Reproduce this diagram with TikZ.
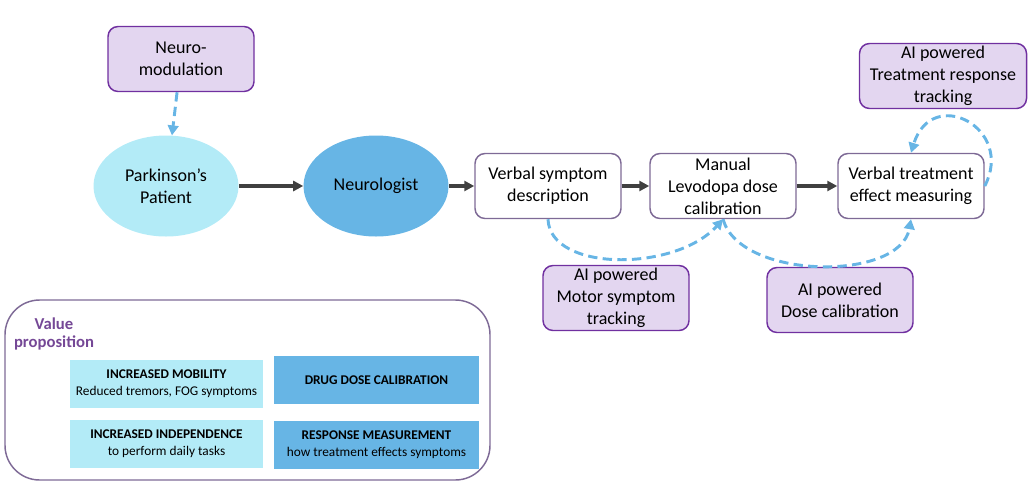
\documentclass[tikz,border=0pt]{standalone}
\usepackage{fontspec}
\setmainfont{Carlito}
\usetikzlibrary{arrows.meta}
\usetikzlibrary{shapes.geometric}
\definecolor{lightcyan}{HTML}{B3EBF7}
\definecolor{midblue}{HTML}{67B5E5}
\definecolor{lilac}{HTML}{E3D6F0}
\definecolor{mypurple}{HTML}{7030A0}
\definecolor{boxframe}{HTML}{7E6A96}
\definecolor{arrowgray}{HTML}{404040}
\colorlet{vptext}{mypurple!70!gray}

\begin{document}
\begin{tikzpicture}[
		x=0.75pt,y=-0.75pt,
		every node/.style={
			font=\fontsize{13.5}{16.5}\selectfont,
			align=center, inner sep=1pt
		},
		stepbox/.style={draw=boxframe, fill=white, line width=1.1pt, rounded corners=7.5pt,
			minimum width=146*0.75pt, minimum height=65*0.75pt},
		aibox/.style={stepbox, draw=mypurple, fill=lilac},
		person/.style={ellipse, minimum width=145*0.75pt, minimum height=101*0.75pt},
		valbox/.style={minimum height=48*0.75pt, font=\fontsize{10}{12.5}\selectfont},
		flow/.style={-{Triangle[length=7.5pt,width=7.5pt]}, line width=2.5pt, arrowgray},
		aiflow/.style={-{Triangle[length=7.5pt,width=8pt]}, line width=2.2pt, midblue,
			dash pattern=on 7pt off 4pt}
	]
	\useasboundingbox (0,0) rectangle (1034,493);
	
	% main flow
	\node[aibox] (neuro) at (181,59) {Neuro-\\modulation};
	\node[person, fill=lightcyan] (patient) at (166,186) {Parkinson’s\\Patient};
	\node[person, fill=midblue] (doctor) at (376,186) {Neurologist};
	\node[stepbox] (symptom) at (548,186) {Verbal symptom\\description};
	\node[stepbox] (manual) at (723,186) {Manual\\Levodopa dose\\calibration};
	\node[stepbox] (effect) at (911,186) {Verbal treatment\\effect measuring};
	
	% AI helpers
	\node[aibox] (motor) at (616,298) {AI powered\\Motor symptom\\tracking};
	\node[aibox] (dose) at (840,300) {AI powered\\Dose calibration};
	\node[aibox, minimum width=167*0.75pt] (response) at (943,76) {AI powered\\Treatment response\\tracking};
	
	\draw[aiflow] (neuro) -- (patient);
	\draw[flow] (patient) -- (doctor);
	\draw[flow] (doctor) -- (symptom);
	\draw[flow] (symptom) -- (manual);
	\draw[flow] (manual) -- (effect);
	
	\draw[aiflow] (symptom.south) .. controls (550,272) and (675,272) .. (manual.south);
	\draw[aiflow] (manual.south) .. controls (740,280) and (900,282) .. (effect.south);
	\draw[aiflow] (effect.east) .. controls (1015,128) and (932,85) .. (effect.north);
	
	% value proposition
	\node[draw=boxframe, line width=1.1pt, rounded corners=26pt,
		minimum width=485*0.75pt, minimum height=180*0.75pt] (value) at (247.5,390) {};
	\node[font=\bfseries\fontsize{12.5}{13.5}\selectfont, text=vptext] (vptitle) at (54,334) {Value\\proposition};
	
	\node[valbox, fill=lightcyan, minimum width=193*0.75pt] (mobility) at (166.5,384)
		{\textbf{INCREASED MOBILITY}\\Reduced tremors, FOG symptoms};
	\node[valbox, fill=midblue, minimum width=205*0.75pt] (dosecal) at (376.5,380)
		{\textbf{DRUG DOSE CALIBRATION}};
	\node[valbox, fill=lightcyan, minimum width=193*0.75pt] (independence) at (166.5,444)
		{\textbf{INCREASED INDEPENDENCE}\\to perform daily tasks};
	\node[valbox, fill=midblue, minimum width=205*0.75pt] (measurement) at (376.5,445)
		{\textbf{RESPONSE MEASUREMENT}\\how treatment effects symptoms};
	
\end{tikzpicture}
\end{document}
